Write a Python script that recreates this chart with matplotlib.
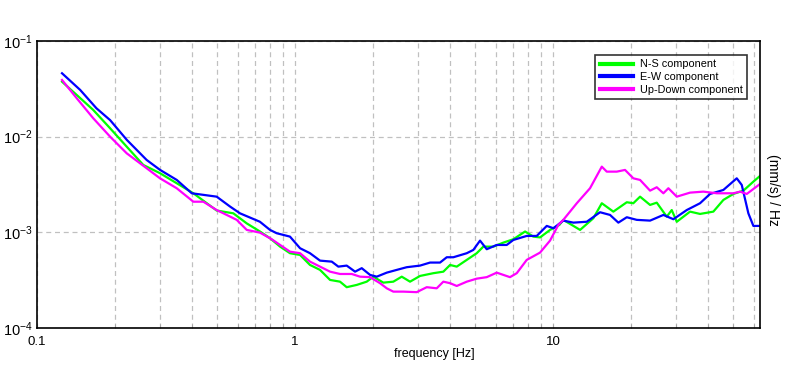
import numpy as np
import matplotlib
matplotlib.use("Agg")
import matplotlib.pyplot as plt
from matplotlib.ticker import LogLocator, FixedLocator, FixedFormatter, NullFormatter

plt.rcParams['font.family'] = ['Liberation Sans', 'DejaVu Sans']
plt.rcParams['mathtext.fontset'] = 'custom'
plt.rcParams['mathtext.rm'] = 'Liberation Sans'
plt.rcParams['mathtext.it'] = 'Liberation Sans'

# ==== data (frequency in Hz, PSD in (mm/s)/Hz) ====
ew_freq = [0.125, 0.147, 0.170, 0.192, 0.223, 0.266, 0.300, 0.348, 0.398, 0.497,
           0.560, 0.612, 0.731, 0.80, 0.849, 0.956, 1.046, 1.143, 1.25, 1.388,
           1.472, 1.586, 1.709, 1.814, 1.953, 2.074, 2.267, 2.479, 2.71, 3.051,
           3.337, 3.648, 3.873, 4.108, 4.63, 4.911, 5.212, 5.534, 6.05, 6.614,
           7.02, 7.907, 8.647, 9.454, 10.03, 10.96, 11.99, 13.51, 15.21, 16.63,
           17.91, 19.31, 21.11, 23.77, 26.77, 29.27, 32.98, 37.13, 40.6, 45.72,
           51.52, 53.87, 57.15, 59.76, 63.4]
ew_psd = [0.0460, 0.0308, 0.0198, 0.0149, 0.00924, 0.00571, 0.00449, 0.00353, 0.00256, 0.00236,
          0.00186, 0.00158, 0.00129, 0.00106, 0.000979, 0.000902, 0.000682, 0.000605, 0.000506, 0.000494,
          0.000438, 0.000449, 0.000388, 0.000422, 0.000359, 0.000344, 0.000379, 0.000405, 0.000432, 0.000449,
          0.000483, 0.000483, 0.000549, 0.000549, 0.000605, 0.000655, 0.000819, 0.000666, 0.000738, 0.000738,
          0.000833, 0.000917, 0.000917, 0.001167, 0.001104, 0.001326, 0.001263, 0.00129, 0.001622, 0.00152,
          0.001263, 0.001438, 0.00135, 0.001326, 0.00152, 0.001371, 0.00171, 0.002014, 0.002519, 0.002773,
          0.00367, 0.003129, 0.00158, 0.001167, 0.001167]

ns_freq = [0.125, 0.1426, 0.1652, 0.192, 0.2227, 0.2582, 0.2997, 0.3479, 0.4036, 0.497,
           0.5767, 0.65, 0.7314, 0.80, 0.875, 0.956, 1.046, 1.143, 1.25, 1.367,
           1.494, 1.586, 1.734, 1.896, 2.012, 2.199, 2.404, 2.592, 2.791, 3.051,
           3.436, 3.757, 3.99, 4.234, 4.63, 5.06, 5.369, 5.871, 6.418, 7.02,
           7.791, 8.388, 8.905, 9.737, 10.58, 10.96, 12.73, 14.33, 15.45, 17.13,
           19.31, 20.47, 21.74, 23.77, 25.23, 27.59, 28.84, 30.17, 33.96, 37.13,
           41.81, 45.72, 49.98, 54.65, 59.76, 63.4]
ns_psd = [0.03755, 0.02727, 0.01901, 0.01224, 0.00786, 0.00506, 0.00415, 0.00326, 0.00256, 0.00169,
          0.00158, 0.00124, 0.00102, 0.000868, 0.000709, 0.000605, 0.00058, 0.000456, 0.000405, 0.000318,
          0.000305, 0.000267, 0.000282, 0.000305, 0.000344, 0.000298, 0.000305, 0.000344, 0.000305, 0.00035,
          0.000374, 0.000388, 0.000456, 0.000438, 0.000515, 0.000605, 0.000709, 0.000709, 0.000781, 0.000847,
          0.00102, 0.000902, 0.000885, 0.00106, 0.001195, 0.00135, 0.00106, 0.001404, 0.002014, 0.001646,
          0.002063, 0.002014, 0.00236, 0.001934, 0.002043, 0.001459, 0.00171, 0.00129, 0.001646, 0.001557,
          0.001646, 0.002181, 0.002519, 0.002727, 0.003387, 0.003884]

ud_freq = [0.125, 0.1426, 0.1652, 0.192, 0.2227, 0.2662, 0.2997, 0.3479, 0.4036, 0.4413,
           0.497, 0.5435, 0.5943, 0.65, 0.7314, 0.812, 0.875, 0.956, 1.046, 1.143,
           1.25, 1.367, 1.494, 1.659, 1.786, 1.953, 2.135, 2.267, 2.404, 2.629,
           2.963, 3.239, 3.541, 3.757, 3.99, 4.234, 4.63, 5.06, 5.534, 6.05,
           6.81, 7.233, 7.907, 8.905, 9.737, 10.48, 10.96, 12.36, 13.91, 15.45,
           16.15, 17.66, 19.01, 20.47, 21.74, 23.77, 25.23, 26.77, 27.99, 30.17,
           33.96, 38.24, 43.11, 49.98, 53.06, 56.34, 63.4]
ud_psd = [0.03914, 0.02519, 0.01557, 0.0100, 0.0067, 0.00467, 0.00367, 0.00289, 0.00209, 0.00209,
          0.00171, 0.00152, 0.00135, 0.00106, 0.000993, 0.000847, 0.000738, 0.000628, 0.000605, 0.000494,
          0.000438, 0.000388, 0.000367, 0.000367, 0.000344, 0.00034, 0.000294, 0.00026, 0.00024, 0.00024,
          0.000237, 0.000267, 0.00026, 0.000305, 0.000294, 0.000275, 0.000305, 0.000328, 0.00034, 0.000379,
          0.00034, 0.000374, 0.000515, 0.000614, 0.00082, 0.001195, 0.00135, 0.002014, 0.00289, 0.004859,
          0.00431, 0.00431, 0.00449, 0.00367, 0.00353, 0.002727, 0.00296, 0.00256, 0.00289, 0.00236,
          0.0026, 0.002663, 0.00256, 0.00256, 0.002663, 0.002519, 0.0032]

labels = ["N-S component", "E-W component", "Up-Down component"]
colors = ["#00ff00", "#0000ff", "#ff00ff"]

x_min, x_max = 0.1, 63.4
y_min, y_max = 1e-4, 1e-1

# ==== Plot ====
fig = plt.figure(figsize=(7.96, 3.70), dpi=100)
ax = fig.add_axes([37/796, 1-328/370, 723/796, 287/370])

ax.plot(ns_freq, ns_psd, color=colors[0], lw=1.6, label=labels[0])
ax.plot(ew_freq, ew_psd, color=colors[1], lw=1.6, label=labels[1])
ax.plot(ud_freq, ud_psd, color=colors[2], lw=1.6, label=labels[2])

ax.set_xscale('log')
ax.set_yscale('log')
ax.set_xlim(x_min, x_max)
ax.set_ylim(y_min, y_max)

ax.xaxis.set_major_locator(FixedLocator([0.1, 1, 10]))
ax.xaxis.set_major_formatter(FixedFormatter(["0.1", "1", "10"]))
ax.xaxis.set_minor_locator(LogLocator(base=10, subs=np.arange(2, 10), numticks=20))
ax.xaxis.set_minor_formatter(NullFormatter())
ax.yaxis.set_major_locator(FixedLocator([1e-4, 1e-3, 1e-2, 1e-1]))
ax.yaxis.set_major_formatter(FixedFormatter([r"$10^{-4}$", r"$10^{-3}$", r"$10^{-2}$", r"$10^{-1}$"]))
ax.yaxis.set_minor_locator(FixedLocator([]))

ax.tick_params(axis='x', which='both', direction='in', length=3, width=0.6, color='#a0a0a0',
               labelsize=9.5, pad=6)
ax.tick_params(axis='y', which='both', length=0, labelsize=10.5, pad=3)

ax.grid(True, which='both', axis='x', color='#c0c0c0', ls=(0, (4, 3)), lw=0.9)
ax.grid(True, which='major', axis='y', color='#c0c0c0', ls=(0, (4, 3)), lw=0.9)
ax.set_axisbelow(True)

for s in ax.spines.values():
    s.set_color('black')
    s.set_linewidth(1.2)

ax.set_xlabel("frequency [Hz]", fontsize=9)
ax.xaxis.set_label_coords((434-37)/723, -0.07)

fig.text(773/796, 1-190/370, "(mm/s) / Hz", rotation=-90, fontsize=10,
         ha='center', va='center')

leg = ax.legend(loc='upper right', bbox_to_anchor=((747-37)/723, (328-55)/287),
                borderaxespad=0, fontsize=7.8, frameon=True, fancybox=False,
                edgecolor='black', handlelength=3.1, handletextpad=0.6,
                labelspacing=0.25, borderpad=0.4)
leg.get_frame().set_linewidth(1.2)
for line in leg.get_lines():
    line.set_linewidth(3)

plt.savefig("out.png", dpi=100)
